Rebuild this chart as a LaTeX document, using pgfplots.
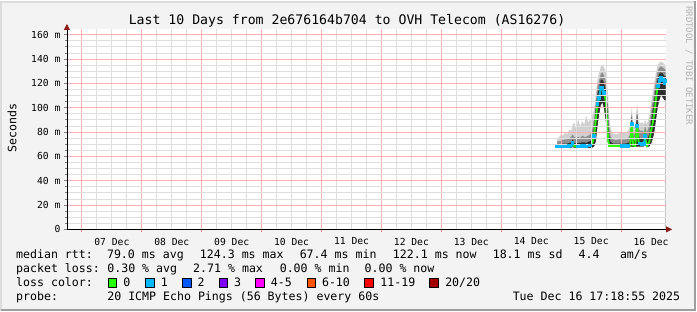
\documentclass[border=0pt]{standalone}
\usepackage{fontspec}
\setmainfont{DejaVu Sans Mono}
\usepackage{pgfplots}
\pgfplotsset{compat=1.18}
\usepackage{pgfplotstable}
\usetikzlibrary{arrows.meta}
\definecolor{bgcol}{HTML}{F3F3F3}
\definecolor{shadea}{HTML}{DCDCDC}
\definecolor{shadeb}{HTML}{9E9E9E}
\definecolor{gridred}{HTML}{FFB0B0}
\definecolor{gridgray}{HTML}{DEDEDE}
\definecolor{tickred}{HTML}{F08080}
\definecolor{arrowred}{HTML}{8E1A1A}
\definecolor{smokeA}{HTML}{D0D0D0}
\definecolor{smokeB}{HTML}{8E8E8E}
\definecolor{smokeC}{HTML}{2E2E2E}
\definecolor{wm}{HTML}{B4B4B4}
\definecolor{l0}{HTML}{26FF00}
\definecolor{l1}{HTML}{00B8FF}
\definecolor{l2}{HTML}{0059FF}
\definecolor{l3}{HTML}{7E00FF}
\definecolor{l4}{HTML}{FF00FF}
\definecolor{l6}{HTML}{FF5500}
\definecolor{l11}{HTML}{FF0000}
\definecolor{l20}{HTML}{A10000}

\pgfplotstableread{
x med cy lo h3 h2 h1
7.9333 68.0 68.0 67.0 69.5 72.0 74.0
7.9667 68.0 68.0 67.0 70.0 72.5 76.0
8.0000 68.0 nan 67.0 70.0 73.0 78.0
8.0333 68.0 68.0 67.0 70.5 73.5 77.0
8.0667 68.0 68.0 67.0 70.5 74.0 80.0
8.1000 68.0 nan 67.0 70.5 74.0 78.0
8.1333 68.5 68.5 67.0 71.0 75.0 82.0
8.1667 69.0 69.0 67.0 71.5 76.0 81.0
8.1917 71.0 71.0 67.5 74.0 78.0 86.0
8.2167 68.5 nan 67.0 71.0 76.0 88.0
8.2500 68.0 nan 67.0 70.5 75.0 82.0
8.2833 68.0 68.0 67.0 71.0 76.0 91.0
8.3167 68.0 68.0 67.0 71.0 75.0 84.0
8.3500 68.5 68.5 67.0 71.5 77.0 89.0
8.3833 68.5 68.5 67.0 71.5 76.0 86.0
8.4167 68.0 68.0 67.0 71.0 76.0 93.0
8.4500 69.0 nan 67.0 72.0 77.0 88.0
8.4833 69.0 69.0 67.0 72.5 78.0 90.0
8.5167 70.0 nan 67.0 74.0 81.0 93.0
8.5500 76.8 76.8 68.0 85.0 91.0 99.0
8.5783 90.5 nan 72.0 100.0 105.0 111.0
8.6050 103.0 103.0 84.0 111.0 117.0 123.0
8.6333 108.0 108.0 94.0 117.0 122.0 129.0
8.6617 116.0 116.0 102.0 123.0 128.0 134.0
8.6883 116.3 116.3 104.0 123.0 129.0 135.0
8.7167 112.0 112.0 98.0 120.0 126.0 133.0
8.7450 105.0 nan 88.0 114.0 121.0 129.0
8.7617 92.0 nan 78.0 105.0 113.0 122.0
8.7833 74.0 nan 69.0 89.0 99.0 111.0
8.8000 68.6 nan 67.5 77.0 85.0 95.0
8.8283 68.5 nan 67.5 71.5 76.0 82.0
8.8667 68.5 nan 67.5 70.5 74.0 79.0
8.9167 68.5 nan 67.5 70.5 73.5 78.0
8.9667 68.5 nan 67.5 70.5 74.0 79.0
9.0167 68.5 68.5 67.5 70.5 74.0 80.0
9.0667 68.5 68.5 67.5 70.5 74.0 79.0
9.1167 68.5 68.5 67.5 71.0 75.0 81.0
9.1500 68.7 nan 67.5 72.5 78.0 85.0
9.1783 86.6 86.6 68.0 93.0 96.0 101.0
9.2000 69.0 nan 67.5 73.5 79.0 85.0
9.2333 68.5 nan 67.5 72.5 78.0 85.0
9.2667 85.0 85.0 68.0 95.0 98.0 103.0
9.2917 72.0 nan 68.0 77.0 83.0 89.0
9.3167 70.5 70.5 68.0 75.0 81.0 87.0
9.3500 70.0 70.0 68.0 74.5 81.0 88.0
9.3833 70.0 70.0 68.0 74.5 80.0 86.0
9.4000 76.8 76.8 69.0 81.0 86.0 91.0
9.4167 71.0 nan 68.0 75.5 81.0 87.0
9.4333 68.6 nan 67.5 73.5 80.0 87.0
9.4717 72.0 nan 68.0 78.5 86.0 93.0
9.5000 81.0 nan 70.0 89.0 96.0 104.0
9.5283 87.7 nan 74.0 98.0 106.0 113.0
9.5550 96.0 nan 80.0 107.0 114.0 121.0
9.5833 108.0 nan 90.0 117.0 123.0 129.0
9.6117 118.0 118.0 100.0 124.0 130.0 135.0
9.6383 122.0 122.0 106.0 128.0 133.0 137.0
9.6667 124.3 124.3 110.0 129.0 134.0 138.0
9.6950 122.7 122.7 108.0 128.0 133.0 137.0
9.7217 120.5 120.5 106.0 126.0 132.0 136.0
9.7417 122.1 122.1 106.0 126.0 131.0 135.0
}\ping

\newcommand{\lgf}{\fontsize{11.6}{13}\selectfont}
\newcommand{\tkf}{\fontsize{9.7}{11}\selectfont}

\begin{document}
\begin{tikzpicture}
\fill[bgcol] (0,0) rectangle (697pt,310pt);
\draw[shadea, line width=2pt] (1pt,0) -- (1pt,309pt) -- (697pt,309pt);
\draw[shadeb, line width=2pt] (1pt,1pt) -- (696pt,1pt) -- (696pt,310pt);

\begin{axis}[
  scale only axis, width=600pt, height=200.7pt,
  at={(67pt,81.3pt)}, anchor=south west,
  xmin=-0.25, xmax=9.75, ymin=0, ymax=164.7,
  axis background/.style={fill=white},
  axis on top,
  axis lines=left,
  axis line style={draw=black, line width=0.8pt},
  x axis line style={-{Triangle[length=6pt,width=6pt,color=arrowred]}, shorten >=-6pt},
  y axis line style={-{Triangle[length=6pt,width=6pt,color=arrowred]}, shorten >=-5pt},
  /pgf/number format/assume math mode=true,
  grid=both,
  major grid style={draw=gridred, line width=1pt},
  minor grid style={draw=gridgray, line width=0.8pt},
  xtick={0,1,...,9},
  xticklabels={07 Dec,08 Dec,09 Dec,10 Dec,11 Dec,12 Dec,13 Dec,14 Dec,15 Dec,16 Dec},
  minor x tick num=3,
  ytick={0,20,...,160},
  yticklabels={0,20 m,40 m,60 m,80 m,100 m,120 m,140 m,160 m},
  minor y tick num=3,
  tick align=outside,
  major tick length=3pt, minor tick length=2pt,
  tick style={draw=gray, line width=0.8pt},
  x tick style={draw=tickred},
  minor x tick style={draw=none},
  xticklabel style={font=\tkf, xshift=30pt, yshift=-2pt},
  yticklabel style={font=\tkf},
  unbounded coords=jump,
]
\addplot[fill=smokeA, draw=none] table[x=x,y=h1]{\ping} \closedcycle;
\addplot[fill=smokeB, draw=none] table[x=x,y=h2]{\ping} \closedcycle;
\addplot[fill=smokeC, draw=none] table[x=x,y=h3]{\ping} \closedcycle;
\addplot[fill=white, draw=none] table[x=x,y=lo]{\ping} \closedcycle;
\addplot[l0, line width=1.8pt, no markers] table[x=x,y=med]{\ping};
\addplot[l1, line width=1.8pt, mark=square*, mark size=0.9pt, mark options={draw=l1,fill=l1}] table[x=x,y=cy]{\ping};
\end{axis}

\node[font=\fontsize{13.2}{15}\selectfont, anchor=base] at (347.5pt,286pt) {Last 10 Days from 2e676164b704 to OVH Telecom (AS16276)};
\node[font=\lgf, rotate=90] at (12pt,183pt) {Seconds};
\node[font=\fontsize{9}{10}\selectfont, text=wm, rotate=-90, anchor=west, inner sep=0pt] at (690pt,305pt) {RRDTOOL / TOBI OETIKER};

\begin{scope}[every node/.style={font=\lgf, anchor=base west, inner sep=0pt}]
\node at (16pt,51.7pt) {median rtt:};
\node at (107pt,51.7pt) {79.0 ms avg};
\node at (200pt,51.7pt) {124.3 ms max};
\node at (300pt,51.7pt) {67.4 ms min};
\node at (393.3pt,51.7pt) {122.1 ms now};
\node at (493.3pt,51.7pt) {18.1 ms sd};
\node at (579.3pt,51.7pt) {4.4};
\node at (620.7pt,51.7pt) {am/s};

\node at (16pt,37.7pt) {packet loss:};
\node at (107.3pt,37.7pt) {0.30 \% avg};
\node at (193.3pt,37.7pt) {2.71 \% max};
\node at (280pt,37.7pt) {0.00 \% min};
\node at (365pt,37.7pt) {0.00 \% now};

\node at (16pt,23.7pt) {loss color:};
\node at (123.3pt,23.7pt) {0};
\node at (161pt,23.7pt) {1};
\node at (197.7pt,23.7pt) {2};
\node at (234.3pt,23.7pt) {3};
\node at (271pt,23.7pt) {4-5};
\node at (322.3pt,23.7pt) {6-10};
\node at (380.7pt,23.7pt) {11-19};
\node at (445.7pt,23.7pt) {20/20};

\node at (16pt,10pt) {probe:};
\node at (107.3pt,10pt) {20 ICMP Echo Pings (56 Bytes) every 60s};
\node at (513.3pt,10pt) {Tue Dec 16 17:18:55 2025};
\end{scope}
\begin{scope}[line width=0.7pt, draw=black]
\filldraw[fill=l0]  (108.5pt,23.6pt) rectangle ++(8.5pt,8.5pt);
\filldraw[fill=l1]  (145.8pt,23.6pt) rectangle ++(8.5pt,8.5pt);
\filldraw[fill=l2]  (182.7pt,23.6pt) rectangle ++(8.5pt,8.5pt);
\filldraw[fill=l3]  (219.3pt,23.6pt) rectangle ++(8.5pt,8.5pt);
\filldraw[fill=l4]  (256pt,23.6pt) rectangle ++(8.5pt,8.5pt);
\filldraw[fill=l6]  (307.3pt,23.6pt) rectangle ++(8.5pt,8.5pt);
\filldraw[fill=l11] (365pt,23.6pt) rectangle ++(8.5pt,8.5pt);
\filldraw[fill=l20] (430pt,23.6pt) rectangle ++(8.5pt,8.5pt);
\end{scope}
\end{tikzpicture}
\end{document}
